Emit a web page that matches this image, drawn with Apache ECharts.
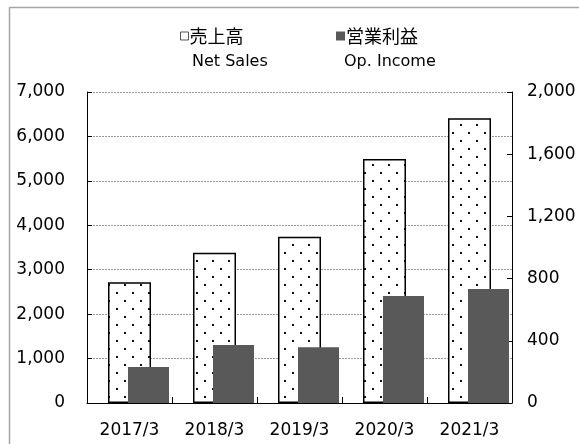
<!DOCTYPE html>
<html>
<head>
<meta charset="utf-8">
<script src="https://cdn.jsdelivr.net/npm/echarts@6/dist/echarts.min.js"></script>
<style>
  html, body { margin: 0; padding: 0; background: #fff; }
  #chart { width: 579px; height: 444px; }
</style>
</head>
<body>
<div id="chart"></div>
<script>
// データ
var years = ['2017/3', '2018/3', '2019/3', '2020/3', '2021/3']
var netSales = [2720, 3380, 3740, 5490, 6410]
var opIncome = [231, 373, 358, 688, 733]
var salesTicks = { min: 0, max: 7000, interval: 1000 }
var incomeTicks = { min: 0, max: 2000, interval: 400 }

var fontEn = 'DejaVu Sans'
var fontJp = '"Noto Sans CJK JP"'

// 売上高の点々模様
function makeDots () {
  var c = document.createElement('canvas')
  c.width = 16
  c.height = 16
  var ctx = c.getContext('2d')
  ctx.fillStyle = '#fff'
  ctx.fillRect(0, 0, 16, 16)
  ctx.fillStyle = '#111'
  ctx.fillRect(4, 4, 2, 2)
  ctx.fillRect(12, 12, 2, 2)
  return c
}

function fmt (v) {
  return v.toLocaleString('en-US')
}

var chart = echarts.init(document.getElementById('chart'))
var option = {
  animation: false,
  textStyle: { fontFamily: fontEn },
  graphic: [
    {
      type: 'rect',
      shape: { x: 9.5, y: 7.5, width: 600, height: 500 },
      style: { fill: null, stroke: '#a6a6a6', lineWidth: 1.5 },
      silent: true
    },
    {
      type: 'text',
      left: 192,
      top: 54,
      style: { text: 'Net Sales', font: '16px ' + fontEn, fill: '#000' }
    },
    {
      type: 'text',
      left: 344,
      top: 54,
      style: { text: 'Op. Income', font: '16px ' + fontEn, fill: '#000' }
    }
  ],
  legend: [
    {
      left: 175,
      top: 22,
      itemWidth: 8,
      itemHeight: 8,
      itemGap: 0,
      icon: 'rect',
      selectedMode: false,
      textStyle: { fontFamily: fontJp, fontSize: 18, color: '#000', padding: [0, 0, 0, -4] },
      data: [{ name: '売上高', itemStyle: { color: '#fff', borderColor: '#555', borderWidth: 1 } }]
    },
    {
      left: 331,
      top: 22,
      itemWidth: 9,
      itemHeight: 9,
      itemGap: 0,
      icon: 'rect',
      selectedMode: false,
      textStyle: { fontFamily: fontJp, fontSize: 18, color: '#000', padding: [0, 0, 0, -4] },
      data: [{ name: '営業利益', itemStyle: { color: '#595959' } }]
    }
  ],
  grid: {
    left: 87,
    right: 67,
    top: 92,
    bottom: 41,
    outerBoundsMode: 'none'
  },
  xAxis: [
    {
      type: 'category',
      data: years,
      axisLine: { lineStyle: { color: '#000', width: 1 } },
      axisTick: { show: true, inside: true, length: 6, lineStyle: { color: '#000' } },
      axisLabel: { color: '#000', fontSize: 17, fontFamily: fontEn, margin: 19 }
    },
    {
      type: 'category',
      data: years,
      show: false
    }
  ],
  yAxis: [
    {
      type: 'value',
      min: salesTicks.min,
      max: salesTicks.max,
      interval: salesTicks.interval,
      axisLine: { show: true, lineStyle: { color: '#000', width: 1 } },
      axisTick: { show: true, inside: true, length: 5, lineStyle: { color: '#000' } },
      axisLabel: { color: '#000', fontSize: 17, fontFamily: fontEn, margin: 22, formatter: fmt },
      splitLine: { show: true, lineStyle: { color: '#999', type: [2, 1], width: 1 } }
    },
    {
      type: 'value',
      min: incomeTicks.min,
      max: incomeTicks.max,
      interval: incomeTicks.interval,
      axisLine: { show: true, lineStyle: { color: '#000', width: 1 } },
      axisTick: { show: true, inside: true, length: 5, lineStyle: { color: '#000' } },
      axisLabel: { color: '#000', fontSize: 17, fontFamily: fontEn, margin: 15, formatter: fmt },
      splitLine: { show: false }
    }
  ],
  series: [
    {
      name: '売上高',
      type: 'bar',
      xAxisIndex: 0,
      yAxisIndex: 0,
      barWidth: 43,
      data: netSales,
      itemStyle: {
        color: { image: makeDots(), repeat: 'repeat' },
        borderColor: '#000',
        borderWidth: 1.5
      }
    },
    {
      // 位置調整用（見えない）
      name: 'spacer',
      type: 'bar',
      xAxisIndex: 1,
      yAxisIndex: 1,
      barWidth: 38,
      barGap: '0%',
      data: ['-', '-', '-', '-', '-']
    },
    {
      name: '営業利益',
      type: 'bar',
      xAxisIndex: 1,
      yAxisIndex: 1,
      barWidth: 41,
      barGap: '0%',
      data: opIncome,
      itemStyle: { color: '#595959' }
    }
  ]
}
chart.setOption(option)
</script>
</body>
</html>
